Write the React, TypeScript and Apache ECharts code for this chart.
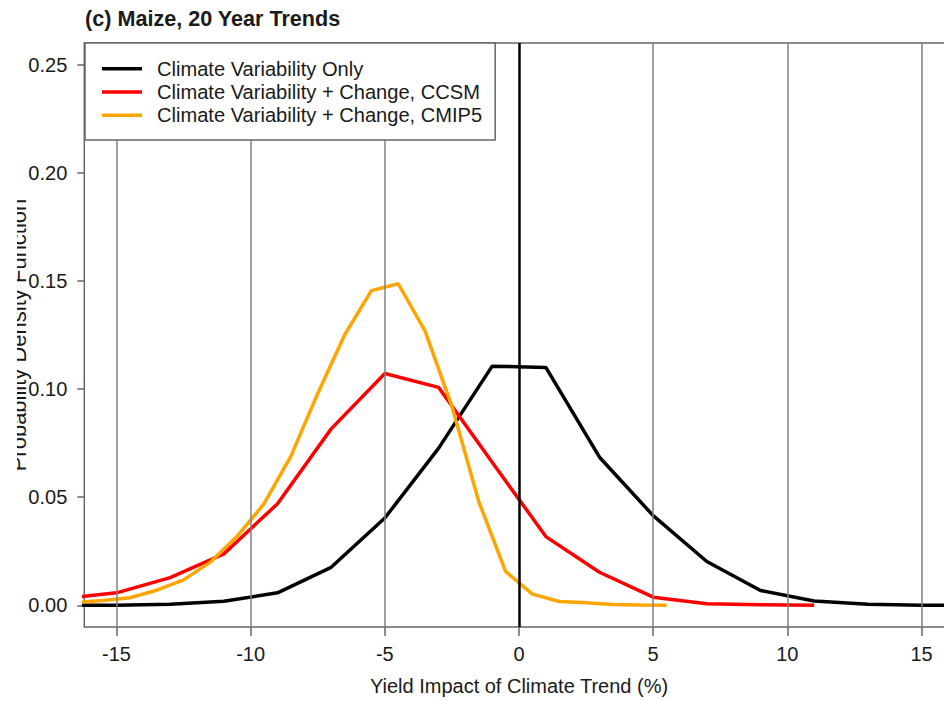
import React, { useEffect, useRef } from "react";
import * as echarts from "echarts";

// ---- data ----
const titleText = "(c) Maize, 20 Year Trends";
const xAxisName = "Yield Impact of Climate Trend (%)";
const yAxisName = "Probability Density Function";
const seriesNames = [
  "Climate Variability Only",
  "Climate Variability + Change, CCSM",
  "Climate Variability + Change, CMIP5",
];
const xTicks = [-15, -10, -5, 0, 5, 10, 15];
const yTicks = [0, 0.05, 0.1, 0.15, 0.2, 0.25];

const blackX = [-17, -15, -13, -11, -9, -7, -5, -3, -1, 1, 3, 5, 7, 9, 11, 13, 15, 17];
const blackY = [0, 0.0001, 0.0005, 0.0019, 0.0058, 0.0176, 0.0404, 0.0726, 0.1106, 0.11, 0.0685, 0.0415, 0.0203, 0.0069, 0.002, 0.0005, 0.0001, 0];

const redX = [-17, -15, -13, -11, -9, -7, -5, -3, -1, 1, 3, 5, 7, 9, 11];
const redY = [0.0032, 0.0058, 0.0128, 0.0238, 0.047, 0.0816, 0.1072, 0.1008, 0.0662, 0.0318, 0.0153, 0.0038, 0.0007, 0.0003, 0.0001];

const orangeX = [-16.5, -15.5, -14.5, -13.5, -12.5, -11.5, -10.5, -9.5, -8.5, -7.5, -6.5, -5.5, -4.5, -3.5, -2.5, -1.5, -0.5, 0.5, 1.5, 2.5, 3.5, 4.5, 5.5];
const orangeY = [0.0014, 0.0022, 0.0035, 0.007, 0.0118, 0.02, 0.032, 0.047, 0.069, 0.098, 0.125, 0.1455, 0.1487, 0.1268, 0.092, 0.048, 0.0157, 0.0052, 0.0018, 0.0012, 0.0004, 0.0002, 0.0001];

const colors = ["#000000", "#ff0000", "#ffa500"];

const FONT = "'Liberation Sans', Arial, Helvetica, sans-serif";

function zip(xs: number[], ys: number[]) {
  return xs.map((x, i) => [x, ys[i]]);
}

export default function App() {
  const ref = useRef<HTMLDivElement>(null);
  useEffect(() => {
    document.body.style.margin = "0";
    if (!ref.current) return;
    const chart = echarts.init(ref.current, undefined, { renderer: "svg" });
    const gridLines: any[] = xTicks
      .filter((v) => v !== 0)
      .map((v) => ({ xAxis: v, lineStyle: { color: "#808080", width: 1.5, type: "solid" } }));
    gridLines.push({ xAxis: 0, lineStyle: { color: "#000", width: 2.5, type: "solid" } });
    const option: any = {
      animation: false,
      backgroundColor: "#fff",
      title: {
        text: titleText,
        left: 85,
        top: 7,
        padding: 0,
        textStyle: { fontFamily: FONT, fontSize: 21.6, fontWeight: "bold", color: "#1a1a1a" },
      },
      legend: {
        orient: "vertical",
        left: 85,
        top: 43,
        padding: [14, 13, 13, 17],
        itemGap: 0,
        itemWidth: 40,
        itemHeight: 3.5,
        icon: "rect",
        backgroundColor: "#fff",
        borderColor: "#666",
        borderWidth: 1.5,
        borderRadius: 0,
        z: 10,
        data: seriesNames,
        textStyle: {
          fontFamily: FONT,
          fontSize: 20.1,
          lineHeight: 23.3,
          color: "#1a1a1a",
          padding: [0, 0, 0, 10],
        },
      },
      grid: {
        left: 84.3,
        top: 43,
        width: 869.4,
        height: 589,
        show: true,
        borderColor: "#666",
        borderWidth: 1.5,
        backgroundColor: "transparent",
        containLabel: false,
      },
      xAxis: {
        type: "value",
        min: -16.2,
        max: 16.2,
        name: xAxisName,
        nameLocation: "middle",
        nameGap: 49,
        nameTextStyle: { fontFamily: FONT, fontSize: 20, color: "#1a1a1a" },
        axisLine: { show: false, onZero: false },
        axisTick: { show: true, length: 9, customValues: xTicks, lineStyle: { color: "#666", width: 1.5 } },
        axisLabel: {
          customValues: xTicks,
          fontFamily: FONT,
          fontSize: 20,
          color: "#1a1a1a",
          margin: 17,
          formatter: (v: number) => String(v),
        },
        splitLine: { show: false },
      },
      yAxis: {
        type: "value",
        min: -0.01,
        max: 0.26,
        axisLine: { show: false, onZero: false },
        axisTick: { show: true, length: 7, customValues: yTicks, lineStyle: { color: "#666", width: 1.5 } },
        axisLabel: {
          customValues: yTicks,
          fontFamily: FONT,
          fontSize: 20,
          color: "#1a1a1a",
          margin: 17,
          formatter: (v: number) => v.toFixed(2),
        },
        splitLine: { show: false },
      },
      graphic: [
        {
          type: "text",
          x: 18.6,
          y: 335,
          rotation: Math.PI / 2,
          style: {
            text: yAxisName,
            font: `22px ${FONT}`,
            fill: "#1a1a1a",
            align: "center",
            verticalAlign: "middle",
          },
          z: 1,
        },
        {
          type: "rect",
          shape: { x: 0, y: 150, width: 17, height: 360 },
          style: { fill: "#fff" },
          z: 2,
        },
      ],
      series: [
        {
          name: seriesNames[0],
          type: "line",
          data: zip(blackX, blackY),
          symbol: "none",
          color: colors[0],
          lineStyle: { color: colors[0], width: 3.5 },
          clip: true,
          z: 3,
          markLine: {
            silent: true,
            symbol: ["none", "none"],
            label: { show: false },
            emphasis: { disabled: true },
            data: gridLines,
          },
        },
        {
          name: seriesNames[1],
          type: "line",
          data: zip(redX, redY),
          symbol: "none",
          color: colors[1],
          lineStyle: { color: colors[1], width: 3.5 },
          clip: true,
          z: 3,
        },
        {
          name: seriesNames[2],
          type: "line",
          data: zip(orangeX, orangeY),
          symbol: "none",
          color: colors[2],
          lineStyle: { color: colors[2], width: 3.5 },
          clip: true,
          z: 3,
        },
      ],
    };
    chart.setOption(option);
    return () => chart.dispose();
  }, []);
  return (
    <div style={{ position: "fixed", left: 0, top: 0, width: 944, height: 701, overflow: "hidden", background: "#fff" }}>
      <div ref={ref} style={{ width: 970, height: 701 }} />
    </div>
  );
}
